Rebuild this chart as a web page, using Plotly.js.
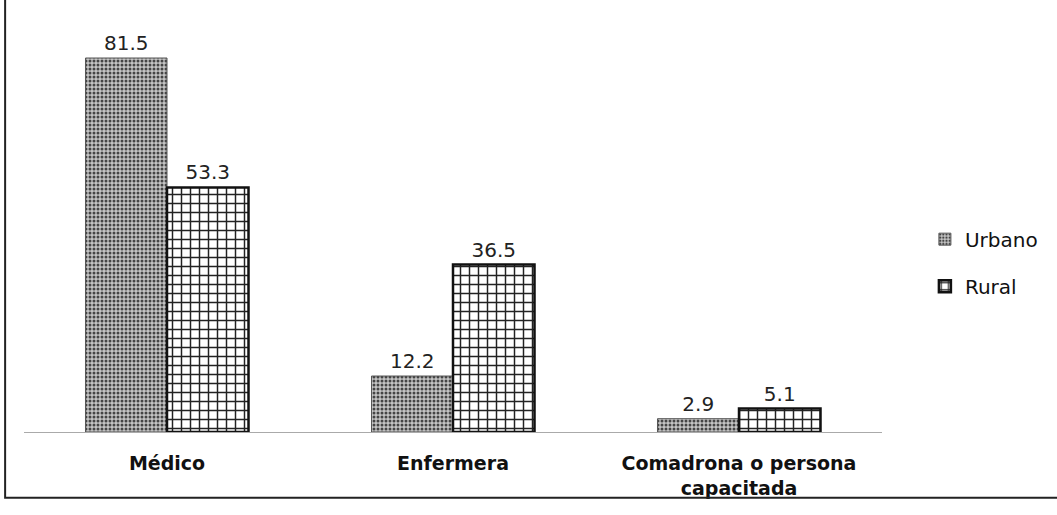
<!DOCTYPE html>
<html>
<head>
<meta charset="utf-8">
<script src="https://cdn.plot.ly/plotly-3.0.1.min.js"></script>
<style>
  body { margin: 0; background: #fff; }
  #chart { width: 1057px; height: 515px; }
</style>
</head>
<body>
<div id="chart"></div>
<script>
const categories = ["Médico", "Enfermera", "Comadrona o persona<br>capacitada"];
const urbano = [81.5, 12.2, 2.9];
const rural = [53.3, 36.5, 5.1];

const font = "DejaVu Sans, Verdana, sans-serif";

const traces = [
  {
    name: "Urbano",
    type: "bar",
    x: categories,
    y: urbano,
    text: urbano.map((v) => v.toFixed(1)),
    textposition: "outside",
    cliponaxis: false,
    textfont: { size: 20, color: "#222", family: font },
    legendgroup: "u",
    marker: {
      color: "#9a9a9a",
      line: { color: "#555", width: 1 },
      pattern: { shape: ".", fgcolor: "#444", bgcolor: "#c4c4c4", size: 4, solidity: 0.45 },
    },
  },
  {
    name: "Rural",
    type: "bar",
    x: categories,
    y: rural,
    text: rural.map((v) => v.toFixed(1)),
    textposition: "outside",
    cliponaxis: false,
    textfont: { size: 20, color: "#222", family: font },
    legendgroup: "r",
    marker: {
      color: "#ffffff",
      line: { color: "#111", width: 2.5 },
      pattern: { shape: "+", fgcolor: "#222", bgcolor: "#fff", size: 9, solidity: 0.3 },
    },
  },
];

const layout = {
  width: 1057,
  height: 515,
  margin: { l: 24, r: 175, t: 19, b: 83 },
  paper_bgcolor: "#fff",
  plot_bgcolor: "#fff",
  barmode: "group",
  bargap: 0.43,
  bargroupgap: 0,
  font: { family: font, color: "#111" },
  xaxis: {
    tickfont: { size: 19, color: "#111", family: font, weight: "bold" },
    showline: true,
    linecolor: "#aaa",
    linewidth: 1,
    ticks: "",
    ticklabelstandoff: 14,
  },
  yaxis: {
    range: [0, 90],
    visible: false,
    showgrid: false,
    zeroline: false,
  },
  legend: {
    x: 1.05,
    y: 0.41,
    xanchor: "left",
    yanchor: "middle",
    font: { size: 20, color: "#111", family: font },
    traceorder: "grouped",
    tracegroupgap: 18,
    itemwidth: 30,
  },
  shapes: [
    {
      type: "rect",
      xref: "paper",
      yref: "paper",
      x0: -0.022,
      x1: 1.25,
      y0: -0.159,
      y1: 1.2,
      line: { color: "#222", width: 2 },
    },
  ],
};

Plotly.newPlot("chart", traces, layout, { staticPlot: true });
</script>
</body>
</html>
